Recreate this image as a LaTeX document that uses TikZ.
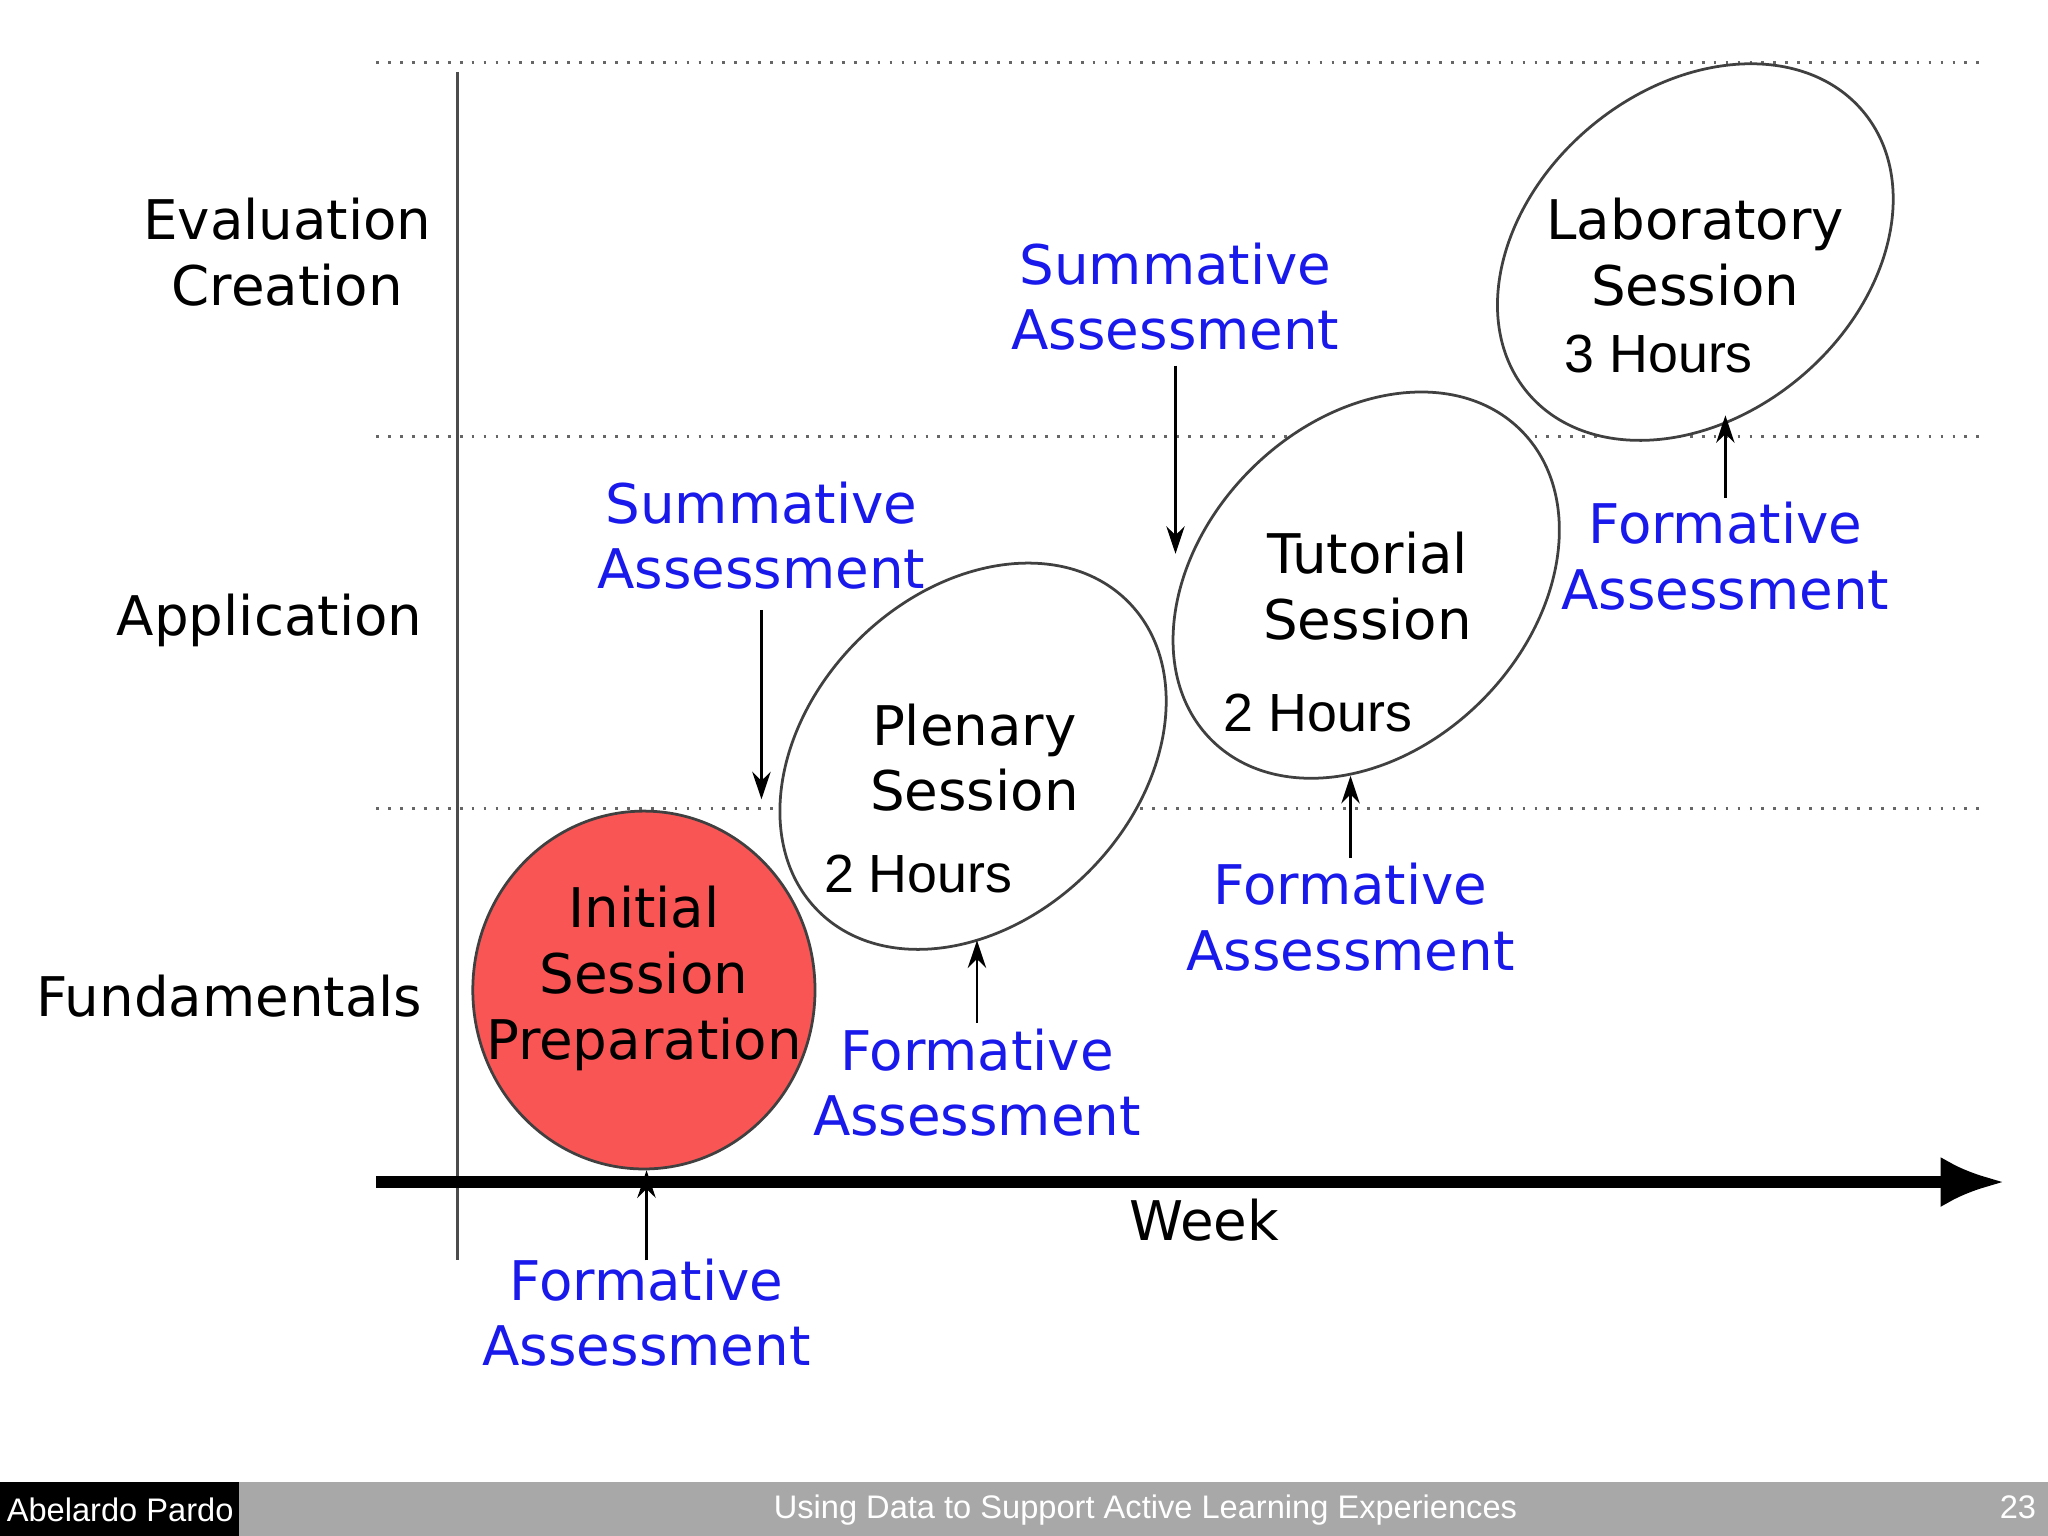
\documentclass[tikz,border=0pt]{standalone}
\usepackage{fontspec}
\setmainfont{DejaVu Sans}
\newfontfamily\hfont{Liberation Sans}
\usetikzlibrary{arrows.meta,shapes.geometric}
\definecolor{blu}{RGB}{25,25,235}
\definecolor{redf}{RGB}{250,85,85}
\definecolor{foot}{RGB}{168,168,168}
\begin{document}
\begin{tikzpicture}[x=0.01cm,y=-0.01cm,
  lab/.style={font=\fontsize{11.9}{14.3}\selectfont,align=center,inner sep=0pt},
  blab/.style={lab,text=blu},
  hrs/.style={font=\hfont\fontsize{11.7}{14.3}\selectfont,inner sep=0pt},
  ell/.style={draw=black!75,line width=0.6pt,ellipse,inner sep=0pt,minimum width=3.35cm,minimum height=2.5cm},
  dot/.style={dotted,black!60,line width=0.6pt},
  arr/.style={-{Stealth[length=6pt,width=4pt]},line width=0.6pt},
  ft/.style={font=\hfont\fontsize{7.1}{8}\selectfont,text=white}]
\fill[white] (0,0) rectangle (1568,1176);
\useasboundingbox (0,0) rectangle (1568,1176);
\draw[dot] (288,48) -- (1522,48);
\draw[dot] (288,334) -- (1522,334);
\draw[dot] (288,619) -- (1522,619);
\draw[black!70,line width=0.7pt] (350,55) -- (350,965);
\coordinate (ax0) at (288,905);
\coordinate (ax1) at (1535,905);
\draw[line width=2.6pt,-{Latex[length=14pt,width=11pt]}] (ax0) -- (ax1);
\node[lab] (week) at (922,934) {Week};
\node[lab] (ev) at (220,193) {Evaluation\\Creation};
\node[lab,anchor=east] (ap) at (324,475) {Application};
\node[lab,anchor=east] (fu) at (324,763) {Fundamentals};
% ellipses
\node[ell,fill=white,rotate=40] (lab3) at (1298,193) {};
\node[ell,fill=white,rotate=45] (tut) at (1046,448) {};
\node[ell,fill=white,rotate=45] (ple) at (745,579) {};
\draw[fill=redf,draw=black!75,line width=0.6pt] (493,758) ellipse [x radius=131,y radius=137];
\node[lab] (init) at (493,749) {Initial\\Session\\Preparation};
\node[lab] (plt) at (746,580) {Plenary\\Session};
\node[hrs] (plh) at (703,669) {2 Hours};
\node[lab] (tut t) at (1047,449) {Tutorial\\Session};
\node[hrs] (tuh) at (1009,546) {2 Hours};
\node[lab] (lbt) at (1298,193) {Laboratory\\Session};
\node[hrs] (lbh) at (1270,271) {3 Hours};
% assessments
\node[blab] (s1) at (583,410) {Summative\\Assessment};
\node[blab] (s2) at (900,227) {Summative\\Assessment};
\node[blab] (f1) at (495,1005) {Formative\\Assessment};
\node[blab] (f2) at (748,829) {Formative\\Assessment};
\node[blab] (f3) at (1034,702) {Formative\\Assessment};
\node[blab] (f4) at (1321,426) {Formative\\Assessment};
\coordinate (c1) at (583,612);
\coordinate (c2) at (900,424);
\coordinate (c3) at (495,896);
\coordinate (c4) at (748,720);
\coordinate (c5) at (1034,594);
\coordinate (c6) at (1321,318);
\draw[arr] (583,467) -- (c1);
\draw[arr] (900,280) -- (c2);
\draw[arr] (495,965) -- (c3);
\draw[arr] (748,783) -- (c4);
\draw[arr] (1034,657) -- (c5);
\draw[arr] (1321,381) -- (c6);
% footer
\fill[foot] (0,1135) rectangle (1568,1176);
\fill[black] (0,1135) rectangle (183,1176);
\node[ft] (fa) at (92,1156) {Abelardo Pardo};
\node[ft] (fb) at (877,1156) {Using Data to Support Active Learning Experiences};
\node[ft] (fc) at (1545,1154) {23};
\end{tikzpicture}
\end{document}
